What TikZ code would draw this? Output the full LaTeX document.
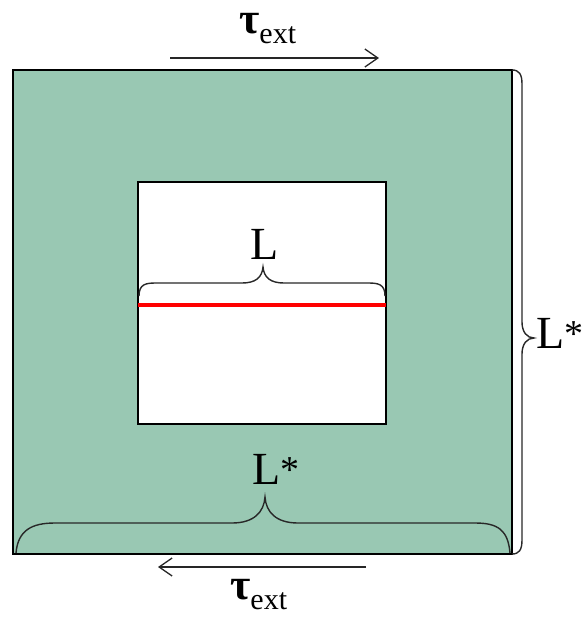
\documentclass[tikz,border=0pt]{standalone}
\usepackage{fontspec}
\setmainfont{Liberation Serif}
\usetikzlibrary{arrows.meta}
\definecolor{plate}{RGB}{153,200,179}
\definecolor{bracegray}{RGB}{40,40,40}
\tikzset{
  lbl/.style={inner sep=0pt, anchor=base west, font=\fontsize{46}{46}\selectfont},
  tau/.style={inner sep=0pt, anchor=base west},
  bracepath/.style={draw=bracegray, line width=1.4pt},
  force/.style={draw=black!85, line width=1.3pt, -{Straight Barb[length=13pt,width=18pt,line width=1.3pt]}},
}
\newcommand{\tauext}{{\fontsize{44}{44}\selectfont\bfseries τ}{\fontsize{30}{30}\selectfont\raisebox{-10pt}{ext}}}
\newcommand{\Lstar}{L{\fontsize{38}{38}\selectfont\raisebox{2pt}{*}}}
\begin{document}
\begin{tikzpicture}[x=1pt,y=-1pt]
\useasboundingbox (0,0) rectangle (587,619);
% outer plate
\coordinate (o1) at (13,70);
\coordinate (o2) at (512,554);
\fill[plate] (o1) rectangle (o2);
% inner hole
\coordinate (i1) at (138,182);
\coordinate (i2) at (386,424);
\draw[fill=white, line width=1.2pt] (i1) rectangle (i2);
\draw[line width=1.4pt] (o1) rectangle (o2);
% crack
\coordinate (c1) at (138,305);
\coordinate (c2) at (386,305);
\draw[red, line width=4pt] (c1) -- (c2);
% inner brace
\coordinate (b1) at (139,296);
\coordinate (b2) at (385,296);
\coordinate (bt) at (263,267);
\draw[bracepath] (b1) .. controls (139,284) and (146,283) .. (156,283) -- (242,283)
  .. controls (255,283) and (262,278) .. (bt)
  .. controls (264,278) and (271,283) .. (284,283) -- (368,283)
  .. controls (378,283) and (385,284) .. (b2);
\node[lbl] (L) at (250,259) {L};
% bottom brace
\coordinate (d1) at (16,553);
\coordinate (d2) at (510,553);
\coordinate (dt) at (265,497);
\draw[bracepath] (d1) .. controls (18,530) and (32,523) .. (55,523) -- (232,523)
  .. controls (254,523) and (264,512) .. (dt)
  .. controls (266,512) and (276,523) .. (298,523) -- (475,523)
  .. controls (498,523) and (508,530) .. (d2);
\node[lbl] (Lb) at (252,484) {\Lstar};
% right brace
\coordinate (r1) at (512,70);
\coordinate (r2) at (512,554);
\coordinate (rt) at (534,338);
\draw[bracepath] (r1) .. controls (519,70) and (522,74) .. (522,84) -- (522,322)
  .. controls (522,332) and (527,338) .. (rt)
  .. controls (527,338) and (522,344) .. (522,354) -- (522,540)
  .. controls (522,550) and (519,554) .. (r2);
\node[lbl] (Lr) at (536,348) {\Lstar};
% forces
\coordinate (t1) at (170,58);
\coordinate (t2) at (379,58);
\draw[force] (t1) -- (t2);
\node[tau] (tt) at (239,33) {\tauext};
\coordinate (u1) at (366,567);
\coordinate (u2) at (158,567);
\draw[force] (u1) -- (u2);
\node[tau] (tb) at (230,599) {\tauext};
\end{tikzpicture}
\end{document}
